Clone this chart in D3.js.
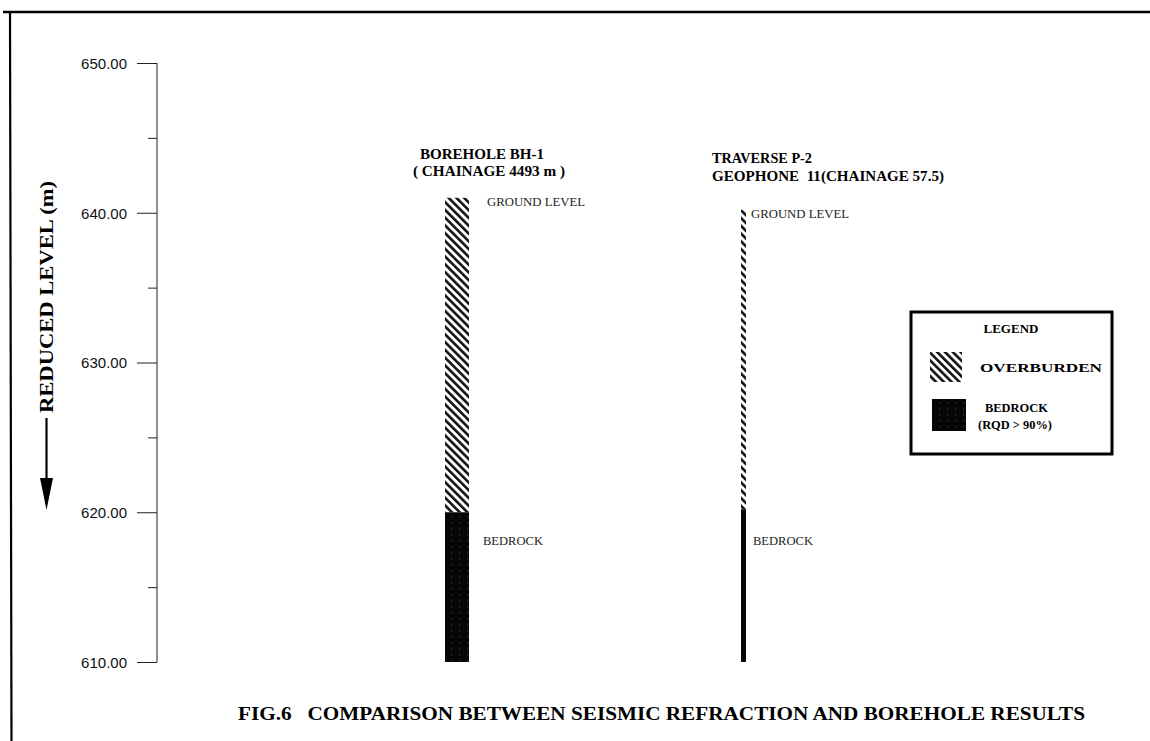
<!DOCTYPE html>
<html>
<head>
<meta charset="utf-8">
<script src="https://cdn.jsdelivr.net/npm/d3@7"></script>
<style>
  html, body { margin: 0; padding: 0; background: #fff; }
  svg { display: block; }
  .serif { font-family: "Liberation Serif", "Times New Roman", serif; }
  .sans { font-family: "Liberation Sans", Arial, sans-serif; }
</style>
</head>
<body>
<svg id="chart" width="1150" height="741"></svg>
<script>
// Level profile at each investigated location (reduced level, m)
const locations   = ["BH-1", "P-2"];
const groundLevel = [641.0, 640.2];
const bedrockTop  = [620.0, 620.2];
const bottomLevel = [610.0, 610.0];
const headerLine1 = ["BOREHOLE BH-1", "TRAVERSE P-2"];
const headerLine2 = ["( CHAINAGE 4493 m )", "GEOPHONE  11(CHAINAGE 57.5)"];
const majorTicks  = [610, 620, 630, 640, 650];
const minorTicks  = [615, 625, 635, 645];
const tickLabels  = ["610.00", "620.00", "630.00", "640.00", "650.00"];

const svg = d3.select("#chart");
const W = 1150, H = 741;

// Scales
const y = d3.scaleLinear().domain([610, 650]).range([662, 63]);
const x = d3.scalePoint().domain(locations).range([457, 743.5]);
const colWidth = { "BH-1": 24, "P-2": 5 };

// Patterns
const defs = svg.append("defs");
const hatch = defs.append("pattern")
  .attr("id", "hatch").attr("patternUnits", "userSpaceOnUse")
  .attr("width", 5.5).attr("height", 5.5)
  .attr("patternTransform", "rotate(-45)");
hatch.append("rect").attr("width", 5.5).attr("height", 5.5).attr("fill", "#fff");
hatch.append("rect").attr("x", 0).attr("width", 2.6).attr("height", 5.5).attr("fill", "#111");

const rock = defs.append("pattern")
  .attr("id", "rock").attr("patternUnits", "userSpaceOnUse")
  .attr("width", 8).attr("height", 6);
rock.append("rect").attr("width", 8).attr("height", 6).attr("fill", "#060606");
rock.append("rect").attr("x", 3).attr("y", 0).attr("width", 1).attr("height", 1.5).attr("fill", "#3a3a3a");

// Page frame
svg.append("line").attr("x1", 3).attr("x2", W).attr("y1", 12).attr("y2", 12)
  .attr("stroke", "#000").attr("stroke-width", 2.5);
svg.append("line").attr("x1", 10).attr("x2", 11.5).attr("y1", 12).attr("y2", H)
  .attr("stroke", "#000").attr("stroke-width", 2.2);

// Y axis
const axisG = svg.append("g").attr("transform", "translate(157,0)");
axisG.call(d3.axisLeft(y).tickValues(majorTicks).tickSize(20).tickPadding(10)
  .tickFormat((d, i) => tickLabels[i]));
axisG.call(g => g.selectAll(".tick line").attr("stroke", "#222").attr("stroke-width", 1));
axisG.select(".domain").attr("stroke", "#222").attr("stroke-width", 1)
  .attr("d", `M0,${y(650)}V${y(610)}`);
axisG.selectAll(".tick text").attr("class", "sans").attr("font-size", 15)
  .attr("fill", "#111").attr("dy", "0.35em");
const minorG = svg.append("g").attr("transform", "translate(157,0)");
minorG.call(d3.axisLeft(y).tickValues(minorTicks).tickSize(9).tickFormat(""));
minorG.select(".domain").remove();
minorG.selectAll(".tick line").attr("stroke", "#222").attr("stroke-width", 1);

// Y axis title with downward arrow
svg.append("text").attr("class", "serif")
  .attr("transform", "translate(53,413) rotate(-90)")
  .attr("font-size", 19).attr("font-weight", "bold")
  .attr("textLength", 232).attr("lengthAdjust", "spacingAndGlyphs")
  .text("REDUCED LEVEL (m)");
svg.append("line").attr("x1", 46.5).attr("x2", 46.5).attr("y1", 418).attr("y2", 482)
  .attr("stroke", "#000").attr("stroke-width", 2.2);
svg.append("path").attr("d", "M40,478 L53,478 L46.5,510 Z").attr("fill", "#000");

// Columns: overburden then bedrock
const cols = svg.append("g");
locations.forEach((loc, i) => {
  const cx = x(loc), w = colWidth[loc];
  cols.append("rect")
    .attr("x", cx - w / 2).attr("width", w)
    .attr("y", y(groundLevel[i])).attr("height", y(bedrockTop[i]) - y(groundLevel[i]))
    .attr("fill", "url(#hatch)");
  cols.append("rect")
    .attr("x", cx - w / 2).attr("width", w)
    .attr("y", y(bedrockTop[i])).attr("height", y(bottomLevel[i]) - y(bedrockTop[i]))
    .attr("fill", "url(#rock)");
});

// Column headers
const headerX = { "BH-1": [420, 413], "P-2": [712, 712] };
const headerY = { "BH-1": [159, 176], "P-2": [163, 181] };
const headerW = { "BH-1": [124, 152], "P-2": [100, 232] };
locations.forEach((loc, i) => {
  svg.append("text").attr("class", "serif").attr("x", headerX[loc][0]).attr("y", headerY[loc][0])
    .attr("font-size", 14).attr("font-weight", "bold")
    .attr("textLength", headerW[loc][0]).attr("lengthAdjust", "spacingAndGlyphs")
    .text(headerLine1[i]);
  svg.append("text").attr("class", "serif").attr("x", headerX[loc][1]).attr("y", headerY[loc][1])
    .attr("font-size", 14).attr("font-weight", "bold")
    .attr("textLength", headerW[loc][1]).attr("lengthAdjust", "spacingAndGlyphs")
    .style("white-space", "pre")
    .text(headerLine2[i]);
});

// Level annotations next to each column
const noteX = { "BH-1": 487, "P-2": 751 };
const rockNoteX = { "BH-1": 483, "P-2": 753 };
locations.forEach((loc, i) => {
  svg.append("text").attr("class", "serif")
    .attr("x", noteX[loc]).attr("y", y(groundLevel[i]) + 8)
    .attr("font-size", 11.5).attr("fill", "#222")
    .attr("textLength", 98).attr("lengthAdjust", "spacingAndGlyphs")
    .text("GROUND LEVEL");
  svg.append("text").attr("class", "serif")
    .attr("x", rockNoteX[loc]).attr("y", 545)
    .attr("font-size", 11.5).attr("fill", "#222")
    .attr("textLength", 60).attr("lengthAdjust", "spacingAndGlyphs")
    .text("BEDROCK");
});

// Legend
const lg = svg.append("g");
lg.append("rect").attr("x", 911).attr("y", 312).attr("width", 201).attr("height", 142)
  .attr("fill", "#fff").attr("stroke", "#000").attr("stroke-width", 3);
lg.append("text").attr("class", "serif").attr("x", 1011).attr("y", 333)
  .attr("text-anchor", "middle").attr("font-size", 13).attr("font-weight", "bold")
  .attr("textLength", 55).attr("lengthAdjust", "spacingAndGlyphs")
  .text("LEGEND");
lg.append("rect").attr("x", 930).attr("y", 352).attr("width", 32).attr("height", 30)
  .attr("fill", "url(#hatch)");
lg.append("text").attr("class", "serif").attr("x", 980).attr("y", 372)
  .attr("font-size", 13).attr("font-weight", "bold")
  .attr("textLength", 122).attr("lengthAdjust", "spacingAndGlyphs")
  .text("OVERBURDEN");
lg.append("rect").attr("x", 932).attr("y", 399).attr("width", 34).attr("height", 32)
  .attr("fill", "url(#rock)");
lg.append("text").attr("class", "serif").attr("x", 985).attr("y", 412)
  .attr("font-size", 13).attr("font-weight", "bold")
  .attr("textLength", 63).attr("lengthAdjust", "spacingAndGlyphs")
  .text("BEDROCK");
lg.append("text").attr("class", "serif").attr("x", 978).attr("y", 429)
  .attr("font-size", 13).attr("font-weight", "bold")
  .attr("textLength", 74).attr("lengthAdjust", "spacingAndGlyphs")
  .text("(RQD > 90%)");

// Figure caption
svg.append("text").attr("class", "serif").attr("x", 238).attr("y", 720)
  .attr("font-size", 18).attr("font-weight", "bold")
  .attr("textLength", 847).attr("lengthAdjust", "spacingAndGlyphs")
  .style("white-space", "pre")
  .text("FIG.6   COMPARISON BETWEEN SEISMIC REFRACTION AND BOREHOLE RESULTS");
</script>
</body>
</html>
